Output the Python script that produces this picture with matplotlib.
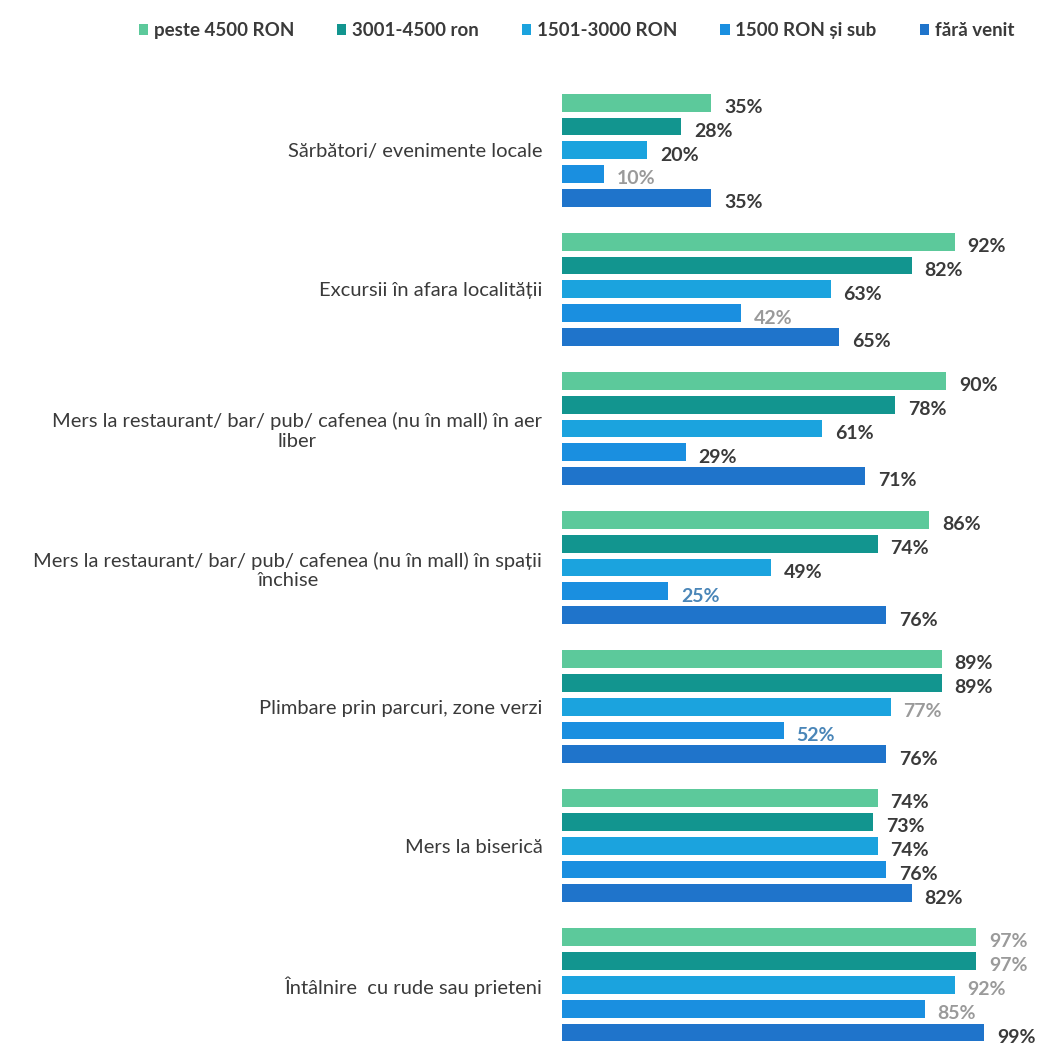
import numpy as np
import matplotlib.pyplot as plt

plt.rcParams['font.family'] = ['Lato', 'DejaVu Sans']

# categorii (de sus in jos)
categorii = [
    "Sărbători/ evenimente locale",
    "Excursii în afara localității",
    "Mers la restaurant/ bar/ pub/ cafenea (nu în mall) în aer\nliber",
    "Mers la restaurant/ bar/ pub/ cafenea (nu în mall) în spații\nînchise",
    "Plimbare prin parcuri, zone verzi",
    "Mers la biserică",
    "Întâlnire  cu rude sau prieteni",
]
serii = ["peste 4500 RON", "3001-4500 ron", "1501-3000 RON", "1500 RON și sub", "fără venit"]

peste_4500 = [35, 92, 90, 86, 89, 74, 97]
intre_3001_4500 = [28, 82, 78, 74, 89, 73, 97]
intre_1501_3000 = [20, 63, 61, 49, 77, 74, 92]
sub_1500 = [10, 42, 29, 25, 52, 76, 85]
fara_venit = [35, 65, 71, 76, 76, 82, 99]

valori = [peste_4500, intre_3001_4500, intre_1501_3000, sub_1500, fara_venit]
culori = ["#5cc99b", "#12958f", "#1ba3de", "#1a8fe0", "#1f74cb"]

# etichete mai estompate in scanare
etichete_gri = {(3, 0), (3, 1), (2, 4), (0, 6), (1, 6), (2, 6), (3, 6)}
etichete_albastre = {(3, 3), (3, 4)}

fig = plt.figure(figsize=(10.48, 10.51), dpi=100)
ax = fig.add_axes([0.536, 0.004, 0.436, 0.912])

pas_grup = 5.83
h = 0.75
for k, (nume, val, c) in enumerate(zip(serii, valori, culori)):
    y = np.arange(len(categorii)) * pas_grup + k
    ax.barh(y, val, height=h, color=c, label=nume)
    for g, v in enumerate(val):
        if (k, g) in etichete_gri:
            col = "#9a9a9a"
        elif (k, g) in etichete_albastre:
            col = "#4a86b8"
        else:
            col = "#3a3a3a"
        ax.text(v + 3.0, y[g] + 0.2, f"{v}%", va="center", ha="left",
                fontsize=14, fontweight="bold", color=col)

ax.set_yticks(np.arange(len(categorii)) * pas_grup + 2)
ax.set_yticklabels(categorii, fontsize=14.5, color="#3a3a3a", multialignment="center")
ax.tick_params(axis="y", length=0, pad=14)
ax.set_xticks([])
ax.set_xlim(0, 107)
ax.set_ylim((len(categorii) - 1) * pas_grup + 4.6, -0.6)
for s in ax.spines.values():
    s.set_visible(False)

fig.legend(loc="upper center", bbox_to_anchor=(0.55, 0.995), ncol=5, frameon=False,
           fontsize=13.5, handlelength=0.5, handleheight=0.5, handletextpad=0.3,
           columnspacing=2.3, labelcolor="#3a3a3a")
for t in fig.legends[0].get_texts():
    t.set_fontweight("bold")

fig.savefig("out.png", dpi=100, facecolor="white")
